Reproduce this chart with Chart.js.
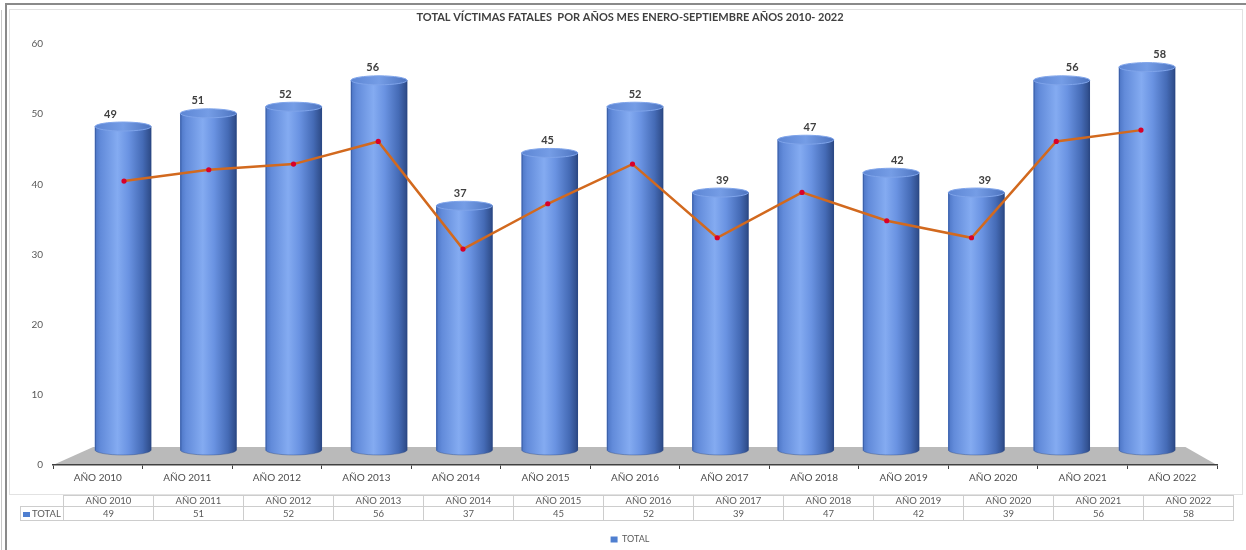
<!DOCTYPE html>
<html><head><meta charset="utf-8">
<script src="https://cdn.jsdelivr.net/npm/chart.js@4.4.1/dist/chart.umd.min.js"></script>
<style>
html,body{margin:0;padding:0;background:#fff;}
#wrap{position:relative;width:1246px;height:550px;overflow:hidden;background:#fff;}
#c{position:absolute;left:0;top:0;}
.outer{position:absolute;left:5px;top:3px;width:1260px;height:560px;border-top:2px solid #8a8a8a;border-left:2px solid #8a8a8a;pointer-events:none;}
.outer2{position:absolute;left:1px;top:10px;width:0;height:540px;border-left:1px solid #c8c8c8;}
.inner{position:absolute;left:9px;top:9px;width:1232px;height:484px;border:1px solid #e2e2e2;pointer-events:none;}
#tbl{position:absolute;left:20px;top:495px;border-collapse:collapse;table-layout:fixed;font-family:Lato,'DejaVu Sans',sans-serif;font-size:9.5px;color:#595959;}
#tbl td{border:1px solid #cdcdcd;text-align:center;padding:0;line-height:10px;white-space:nowrap;overflow:hidden;}
#tbl tr.h td{height:10px;}
#tbl tr.v td{height:13px;}
#tbl td.blank{border-top:none;border-left:none;}
.key{display:inline-block;width:7px;height:5px;background:#4f7fd0;margin-right:2px;vertical-align:0px;}
</style></head>
<body>
<div id="wrap">
<canvas id="c" width="1246" height="550"></canvas>
<div class="outer"></div><div class="outer2"></div>
<div class="inner"></div>
<table id="tbl"></table>
</div>
<script>
const categories = ['AÑO 2010','AÑO 2011','AÑO 2012','AÑO 2013','AÑO 2014','AÑO 2015','AÑO 2016','AÑO 2017','AÑO 2018','AÑO 2019','AÑO 2020','AÑO 2021','AÑO 2022'];
const totals = [49,51,52,56,37,45,52,39,47,42,39,56,58];
const yTicks = [0,10,20,30,40,50,60];
const seriesName = 'TOTAL';
const titleText = 'TOTAL VÍCTIMAS FATALES  POR AÑOS MES ENERO-SEPTIEMBRE AÑOS 2010- 2022';

// data table built from the arrays
(function(){
  const t = document.getElementById('tbl');
  let html = '<colgroup><col style="width:43px">' + categories.map(()=>'<col style="width:90px">').join('') + '</colgroup>';
  html += '<tr class="h"><td class="blank"></td>' + categories.map(c=>'<td>'+c+'</td>').join('') + '</tr>';
  html += '<tr class="v"><td style="text-align:left;padding-left:2px"><span class="key"></span>' + seriesName + '</td>' + totals.map(v=>'<td>'+v+'</td>').join('') + '</tr>';
  t.innerHTML = html;
})();

Chart.defaults.font.family = "Lato, 'DejaVu Sans', sans-serif";
Chart.defaults.color = '#595959';

const pts = totals.map((v,i)=>({x:i, y:v}));

function cylGradient(ctx, l, r){
  const g = ctx.createLinearGradient(l,0,r,0);
  g.addColorStop(0,'#4d76c6');
  g.addColorStop(0.1,'#628bda');
  g.addColorStop(0.4,'#84abf1');
  g.addColorStop(0.6,'#6a93e2');
  g.addColorStop(0.85,'#456bb6');
  g.addColorStop(1,'#2d4a86');
  return g;
}

const cylinders = {
  id: 'cylinders',
  beforeDraw(chart){
    const {ctx, scales:{x, y, xb, yb}} = chart;
    const frontY = y.getPixelForValue(0);
    const backY = yb.getPixelForValue(0) - 3;
    ctx.save();
    ctx.fillStyle = '#bababa';
    ctx.beginPath();
    ctx.moveTo(x.left, frontY);
    ctx.lineTo(x.right, frontY);
    ctx.lineTo(xb.getPixelForValue(categories.length - 0.55), backY);
    ctx.lineTo(xb.getPixelForValue(-0.35), backY);
    ctx.closePath();
    ctx.fill();
    ctx.restore();
  },
  beforeDatasetDraw(chart, args){
    if (args.meta.type !== 'bar') return;
    const ctx = chart.ctx;
    args.meta.data.forEach(el=>{
      el.options = Object.assign({}, el.options, {backgroundColor: cylGradient(ctx, el.x - el.width/2, el.x + el.width/2)});
    });
  },
  afterDatasetDraw(chart, args){
    if (args.meta.type !== 'bar') return;
    const ctx = chart.ctx;
    args.meta.data.forEach(el=>{
      const l = el.x - el.width/2, r = el.x + el.width/2, rx = el.width/2;
      ctx.save();
      ctx.beginPath();
      ctx.ellipse(el.x, el.base, rx, 5, 0, 0, Math.PI);
      ctx.fillStyle = cylGradient(ctx, l, r);
      ctx.fill();
      ctx.strokeStyle = 'rgba(40,70,130,0.5)';
      ctx.lineWidth = 0.8;
      ctx.stroke();
      ctx.beginPath();
      ctx.moveTo(l+0.5, el.y); ctx.lineTo(l+0.5, el.base);
      ctx.moveTo(r-0.5, el.y); ctx.lineTo(r-0.5, el.base);
      ctx.strokeStyle = 'rgba(40,70,130,0.55)';
      ctx.stroke();
      ctx.beginPath();
      ctx.ellipse(el.x, el.y, rx, 4.5, 0, 0, Math.PI*2);
      const g2 = ctx.createLinearGradient(l,0,r,0);
      g2.addColorStop(0,'#5d86d4');
      g2.addColorStop(0.5,'#759de6');
      g2.addColorStop(1,'#4d74c0');
      ctx.fillStyle = g2;
      ctx.fill();
      ctx.strokeStyle = '#7fa4ea';
      ctx.lineWidth = 1;
      ctx.stroke();
      ctx.restore();
    });
  },
  afterDatasetsDraw(chart){
    const {ctx, scales:{x}} = chart;
    const meta = chart.getDatasetMeta(0);
    ctx.save();
    ctx.font = "bold 11px Lato, 'DejaVu Sans', sans-serif";
    ctx.fillStyle = '#404040';
    ctx.textAlign = 'center';
    ctx.textBaseline = 'middle';
    meta.data.forEach((el,i)=>{
      const lx = (x.getPixelForValue(i) + el.x)/2;
      ctx.fillText(String(totals[i]), lx, el.y - 12.5);
    });
    ctx.restore();
  }
};

new Chart(document.getElementById('c'), {
  type: 'bar',
  data: {
    labels: categories,
    datasets: [
      {
        type: 'bar', label: seriesName, data: pts,
        xAxisID: 'xb', yAxisID: 'yb',
        backgroundColor: (c) => '#4f7fd0', borderWidth: 0,
        grouped: false, barPercentage: 1, categoryPercentage: 1, maxBarThickness: 56, order: 1
      },
      {
        type: 'line', label: seriesName + ' (línea)', data: pts,
        xAxisID: 'xl', yAxisID: 'yl',
        borderColor: '#d2691e', borderWidth: 2.5,
        pointRadius: 2.6, pointBackgroundColor: '#d8002a', pointBorderWidth: 0,
        tension: 0, order: 0
      }
    ]
  },
  options: {
    responsive: false, animation: false,
    layout: { padding: { left: 14, right: 0, top: 0, bottom: -4 } },
    plugins: {
      title: {
        display: true, text: titleText, color: '#404040',
        font: { size: 11, weight: 'bold' },
        padding: { top: 10.5, bottom: 20.3 }
      },
      legend: {
        display: true, position: 'bottom',
        labels: {
          boxWidth: 7, boxHeight: 6, padding: 10, color: '#595959',
          font: { size: 9 },
          filter: (item) => item.datasetIndex === 0
        }
      },
      tooltip: { enabled: false }
    },
    scales: {
      x: {
        type: 'category', labels: categories, position: 'bottom', offset: true,
        grid: { display: true, offset: true, drawOnChartArea: false, drawTicks: true, tickLength: 4, color: '#404040' },
        border: { display: true, color: '#404040', width: 1.5 },
        ticks: { font: { size: 10 }, color: '#4d4d4d', padding: 3, maxRotation: 0 },
        afterFit: (s) => { s.height = 60; }
      },
      xb: { type: 'linear', display: false, offset: false, grid: { offset: false }, min: -0.821, max: 12.82 },
      xl: { type: 'linear', display: false, offset: false, grid: { offset: false }, min: -0.838, max: 12.897 },
      y: {
        type: 'linear', position: 'left', min: yTicks[0], max: yTicks[yTicks.length-1],
        afterBuildTicks: (s) => { s.ticks = yTicks.map(v=>({value:v})); },
        grid: { display: false }, border: { display: false },
        ticks: { font: { size: 10 }, color: '#595959', padding: 2 },
        afterFit: (s) => { s.width = 39; }
      },
      yb: {
        type: 'linear', position: 'right', display: true, min: -2.27, max: 61.5,
        grid: { display: false }, border: { display: false }, ticks: { display: false },
        afterFit: (s) => { s.width = 29; }
      },
      yl: { type: 'linear', display: false, min: -1.11, max: 73.2 }
    }
  },
  plugins: [cylinders]
});
</script>
</body></html>
